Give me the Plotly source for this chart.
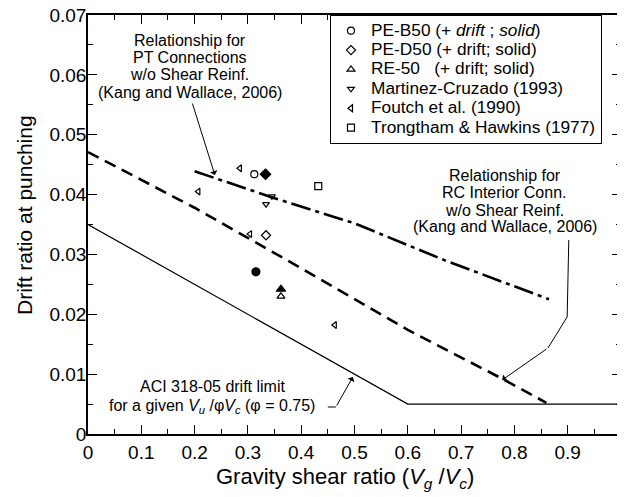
import plotly.graph_objects as go

# ---- data ----
aci_x = [0.0, 0.6, 1.0]
aci_y = [0.035, 0.005, 0.005]

rc_x = [0.0, 0.2, 0.4, 0.6, 0.78, 0.86]
rc_y = [0.0471, 0.0378, 0.0277, 0.0174, 0.0091, 0.0052]

pt_x = [0.20, 0.35, 0.50, 0.67, 0.865]
pt_y = [0.0439, 0.0394, 0.0352, 0.0290, 0.0225]

peb50_open_x = [0.312]
peb50_open_y = [0.0434]
peb50_solid_x = [0.315]
peb50_solid_y = [0.0271]

ped50_open_x = [0.334]
ped50_open_y = [0.0332]
ped50_solid_x = [0.333]
ped50_solid_y = [0.0434]

re50_open_x = [0.362]
re50_open_y = [0.0230]
re50_solid_x = [0.362]
re50_solid_y = [0.0242]

martinez_x = [0.334, 0.345]
martinez_y = [0.0384, 0.0397]

foutch_x = [0.207, 0.285, 0.304, 0.463]
foutch_y = [0.0405, 0.0444, 0.0334, 0.0182]

trongtham_x = [0.432]
trongtham_y = [0.0414]

x_ticks = [0, 0.1, 0.2, 0.3, 0.4, 0.5, 0.6, 0.7, 0.8, 0.9, 1]
y_ticks = [0, 0.01, 0.02, 0.03, 0.04, 0.05, 0.06, 0.07]

FONT = "Liberation Sans, Arial, sans-serif"

def leg(s):
    return "<span style='font-size:17.3px'>" + s + "</span>"

fig = go.Figure()

# lines
fig.add_trace(go.Scatter(x=aci_x, y=aci_y, mode="lines",
                         line=dict(color="black", width=1.2), showlegend=False))
fig.add_trace(go.Scatter(x=rc_x, y=rc_y, mode="lines",
                         line=dict(color="black", width=2.6, dash="12px,7px"), showlegend=False))
fig.add_trace(go.Scatter(x=pt_x, y=pt_y, mode="lines",
                         line=dict(color="black", width=2.6, dash="20px,5px,4px,5px"), showlegend=False))

mk = dict(color="black", line=dict(color="black", width=1.2))

# legend series (open)
fig.add_trace(go.Scatter(x=peb50_open_x, y=peb50_open_y, mode="markers",
                         name=leg("PE-B50 (+ <i>drift</i> ; <i>solid</i>)"),
                         marker=dict(symbol="circle-open", size=7, **mk)))
fig.add_trace(go.Scatter(x=ped50_open_x, y=ped50_open_y, mode="markers",
                         name=leg("PE-D50 (+ drift; solid)"),
                         marker=dict(symbol="diamond-open", size=7, **mk)))
fig.add_trace(go.Scatter(x=re50_open_x, y=re50_open_y, mode="markers",
                         name=leg("RE-50\u00a0\u00a0\u00a0(+ drift; solid)"),
                         marker=dict(symbol="triangle-up-open", size=7, **mk)))
fig.add_trace(go.Scatter(x=martinez_x, y=martinez_y, mode="markers",
                         name=leg("Martinez-Cruzado (1993)"),
                         marker=dict(symbol="triangle-down-open", size=6, **mk)))
fig.add_trace(go.Scatter(x=foutch_x, y=foutch_y, mode="markers",
                         name=leg("Foutch et al. (1990)"),
                         marker=dict(symbol="triangle-left-open", size=6, **mk)))
fig.add_trace(go.Scatter(x=trongtham_x, y=trongtham_y, mode="markers",
                         name=leg("Trongtham & Hawkins (1977)"),
                         marker=dict(symbol="square-open", size=7, **mk)))

# solid markers (not in legend)
fig.add_trace(go.Scatter(x=peb50_solid_x, y=peb50_solid_y, mode="markers", showlegend=False,
                         marker=dict(symbol="circle", size=8, **mk)))
fig.add_trace(go.Scatter(x=ped50_solid_x, y=ped50_solid_y, mode="markers", showlegend=False,
                         marker=dict(symbol="diamond", size=8, **mk)))
fig.add_trace(go.Scatter(x=re50_solid_x, y=re50_solid_y, mode="markers", showlegend=False,
                         marker=dict(symbol="triangle-up", size=8, **mk)))

ann = []
def txt(x, y, s, size=16):
    ann.append(dict(x=x, y=y, xref="x", yref="y", text=s, showarrow=False,
                    xanchor="center", yanchor="middle",
                    font=dict(family=FONT, size=size, color="black")))

# left PT block
for yy, s in zip([0.06582, 0.06298, 0.06014, 0.05713],
                 ["Relationship for", "PT Connections", "w/o Shear Reinf.", "(Kang and Wallace, 2006)"]):
    txt(0.191, yy, s)
# right RC block
for yy, s in zip([0.04327, 0.04038, 0.03742, 0.03463],
                 ["Relationship for", "RC Interior Conn.", "w/o Shear Reinf.", "(Kang and Wallace, 2006)"]):
    txt(0.782, yy, s)
# ACI block
txt(0.233, 0.0079, "ACI 318-05 drift limit")
txt(0.233, 0.00456, "for a given <i>V<sub>u</sub></i> /\u03c6<i>V<sub>c</sub></i> (\u03c6 = 0.75)")

# axis titles as annotations
ann.append(dict(x=0.482, y=-0.104, xref="paper", yref="paper", showarrow=False,
                xanchor="center", yanchor="middle",
                text="Gravity shear ratio (<i>V<sub>g</sub></i> /<i>V<sub>c</sub></i>)",
                font=dict(family=FONT, size=22, color="black")))
ann.append(dict(x=-0.118, y=0.523, xref="paper", yref="paper", showarrow=False,
                xanchor="center", yanchor="middle", textangle=-90,
                text="Drift ratio at punching",
                font=dict(family=FONT, size=21, color="black")))

# arrows
def arrow(x0, y0, x1, y1):
    ann.append(dict(x=x1, y=y1, ax=x0, ay=y0, xref="x", yref="y", axref="x", ayref="y",
                    text="", showarrow=True, arrowhead=1, arrowsize=1.3, arrowwidth=1,
                    arrowcolor="black"))

arrow(0.195, 0.05546, 0.238, 0.04327)
arrow(0.863, 0.01437, 0.777, 0.00902)
arrow(0.465, 0.00451, 0.497, 0.00952)

shapes = [
    dict(type="path", xref="x", yref="y",
         path="M 0.902 0.0324 L 0.899 0.01955 L 0.863 0.01437",
         line=dict(color="black", width=1)),
    dict(type="path", xref="x", yref="y",
         path="M 0.450 0.00451 L 0.465 0.00451",
         line=dict(color="black", width=1)),
]

axis_common = dict(showline=True, linecolor="black", linewidth=1.5, mirror="allticks",
                   ticks="inside", ticklen=9, tickwidth=1, tickcolor="black",
                   showgrid=False, zeroline=False, ticklabeloverflow="allow",
                   tickfont=dict(family=FONT, size=19, color="black"))

# the page body has an 8px margin, so the figure is shifted by 8px; compensate
fig.update_layout(
    width=617, height=489,
    margin=dict(l=80, r=4, t=7, b=63, autoexpand=False),
    paper_bgcolor="white", plot_bgcolor="white",
    font=dict(family=FONT, color="black"),
    xaxis=dict(range=[0, 1], tickvals=x_ticks, ticktext=[str(v) for v in x_ticks],
               minor=dict(ticks="inside", ticklen=5, dtick=0.05, tickcolor="black"),
               ticklabelstandoff=0,
               **axis_common),
    yaxis=dict(range=[0, 0.07], tickvals=y_ticks, ticktext=[str(v) for v in y_ticks],
               minor=dict(ticks="inside", ticklen=5, dtick=0.005, tickcolor="black"),
               ticklabelstandoff=-4,
               **axis_common),
    legend=dict(x=0.454, y=1.0, xanchor="left", yanchor="top",
                bgcolor="white", bordercolor="black", borderwidth=1,
                font=dict(family=FONT, size=12.6, color="black"),
                tracegroupgap=0, itemwidth=30),
    annotations=ann,
    shapes=shapes,
)

fig.write_html("out.html")
